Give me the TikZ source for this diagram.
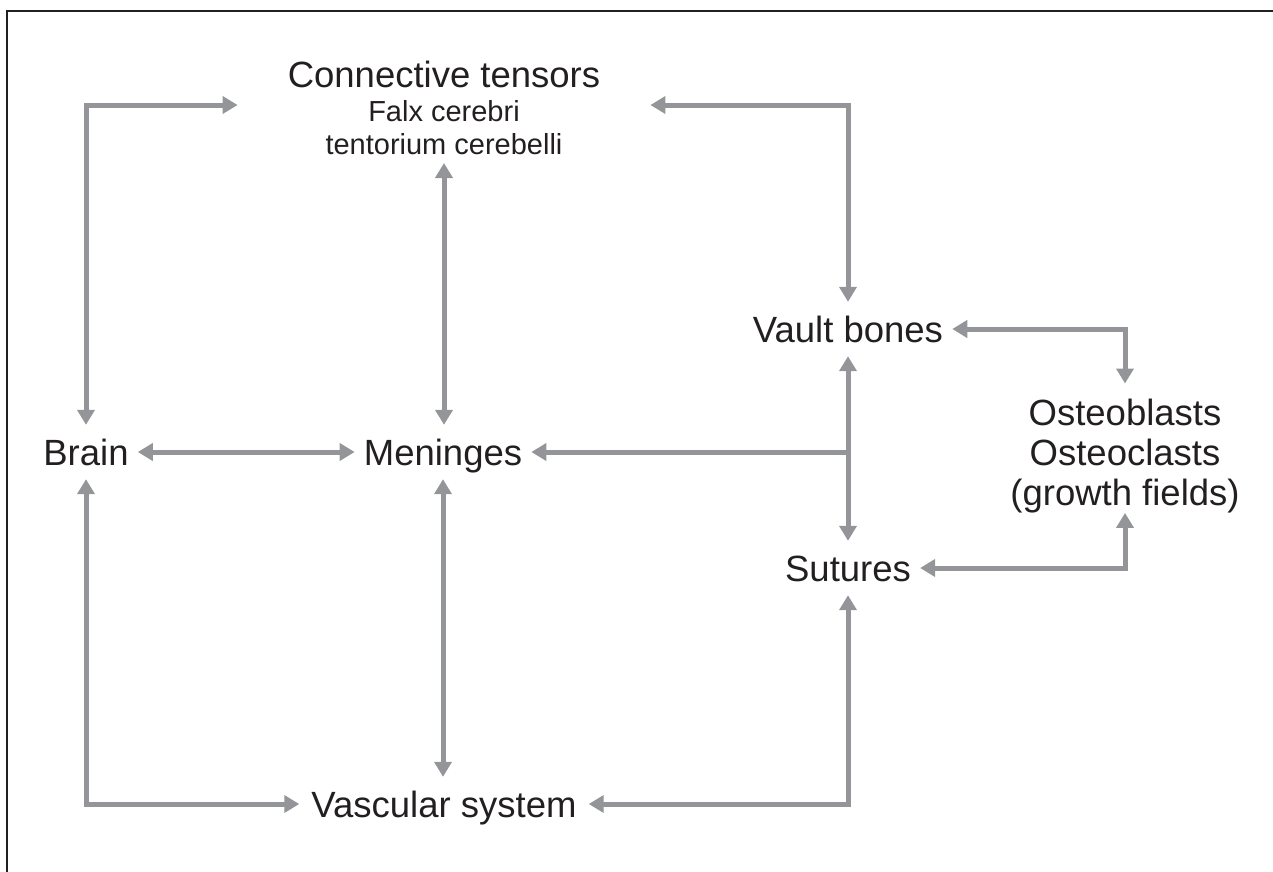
\documentclass[tikz,border=0pt]{standalone}
\usepackage{fontspec}
\setmainfont{Liberation Sans}
\usetikzlibrary{arrows.meta}
\definecolor{linegray}{RGB}{147,149,152}
\definecolor{ink}{RGB}{35,31,32}
\begin{document}
\begin{tikzpicture}[x=1pt,y=-1pt,
  lbl/.style={font=\fontsize{36.5}{40}\selectfont, text=ink, text height=26pt, text depth=0pt, inner xsep=9pt, inner ysep=14pt},
  blk/.style={align=center, text=ink, inner sep=0pt},
  arr/.style={draw=linegray, line width=5pt, {Triangle[length=15pt,width=17pt]}-{Triangle[length=15pt,width=17pt]}},
  arrone/.style={draw=linegray, line width=5pt, -{Triangle[length=15pt,width=17pt]}},
  frame/.style={draw=ink, line width=2.7pt}]
\useasboundingbox (0,0) rectangle (1273,871);
\draw[frame] (7,875) -- (7,11) -- (1277,11);

\node[lbl] (brain) at (86,452) {Brain};
\node[lbl] (men) at (443,452) {Meninges};
\node[lbl] (vault) at (848,329) {Vault bones};
\node[lbl] (sut) at (848,568) {Sutures};
\node[lbl, inner xsep=12pt] (vasc) at (444,804) {Vascular system};
\node[blk, anchor=south, font=\fontsize{29}{33.5}\selectfont] (ct) at (444,155)
  {{\fontsize{36.5}{34}\selectfont Connective tensors}\\Falx cerebri\\tentorium cerebelli};
\node[blk, anchor=north, font=\fontsize{36.5}{40}\selectfont] (ost) at (1125,398.5)
  {Osteoblasts\\Osteoclasts\\(growth fields)};

\coordinate (ctl) at ([xshift=-50pt]ct.west |- 0,105);
\coordinate (ctr) at ([xshift=50pt]ct.east |- 0,105);
\coordinate (j) at (vault.south |- men.east);

\draw[arr] (brain.north) |- (ctl);
\draw[arr] (ctr) -| (vault.north);
\draw[arr] ([yshift=-8pt]ct.south) -- (men.north -| ct.south);
\draw[arr] (brain.east) -- (men.west);
\draw[arr] (men.south) -- (men.south |- vasc.north);
\draw[arr] (vault.south) -- (vault.south |- sut.north);
\draw[arrone] (j) -- (men.east);
\draw[arr] (brain.south) |- (vasc.west);
\draw[arr] (vasc.east) -| (sut.south);
\draw[arr] (vault.east) -| ([yshift=15pt]ost.north);
\draw[arr] (sut.east) -| (ost.south);
\end{tikzpicture}
\end{document}
